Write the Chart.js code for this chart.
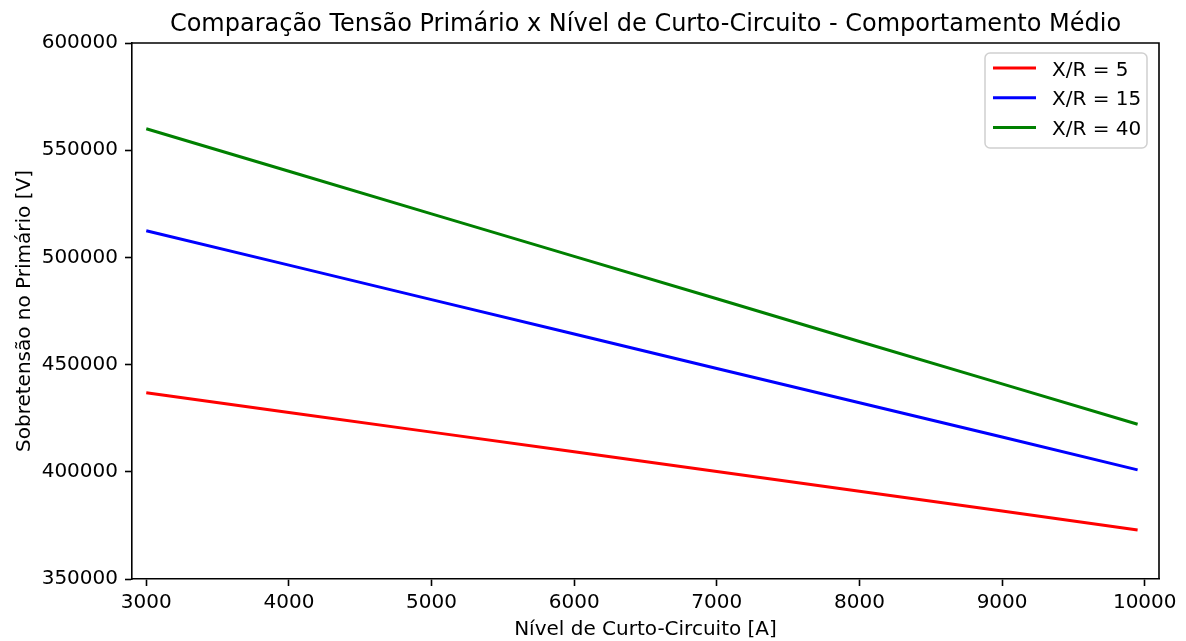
<!DOCTYPE html>
<html>
<head>
<meta charset="utf-8">
<title>Comparação Tensão Primário x Nível de Curto-Circuito</title>
<script src="https://cdn.jsdelivr.net/npm/chart.js@4.4.1/dist/chart.umd.min.js"></script>
<style>
  html, body { margin: 0; padding: 0; background: #fff; }
  #wrap { width: 1186px; height: 641px; }
</style>
</head>
<body>
<div id="wrap"><canvas id="chart" width="1186" height="641"></canvas></div>
<script>
// --- data ---
const shortCircuit = [3000, 4000, 5000, 6000, 7000, 8000, 9000, 9950];
const xr5  = [436900, 427700, 418500, 409300, 400100, 390900, 381700, 372900];
const xr15 = [512400, 496400, 480300, 464300, 448200, 432200, 416200, 400900];
const xr40 = [560000, 540200, 520300, 500500, 480700, 460800, 441000, 422200];
const seriesLabels = ['X/R = 5', 'X/R = 15', 'X/R = 40'];
const seriesColors = ['#ff0000', '#0000ff', '#008000'];
const xTicks = [3000, 4000, 5000, 6000, 7000, 8000, 9000, 10000];
const yTicks = [350000, 400000, 450000, 500000, 550000, 600000];
const chartTitle = 'Comparação Tensão Primário x Nível de Curto-Circuito - Comportamento Médio';

Chart.defaults.font.family = "'DejaVu Sans', sans-serif";
Chart.defaults.font.size = 20;
Chart.defaults.color = '#000';

const toPoints = (ys) => ys.map((y, i) => ({ x: shortCircuit[i], y: y }));

// top/right spines + title centred over the axes (matplotlib style)
const frameBox = {
    id: 'frameBox',
    afterDraw(chart) {
        const { ctx, chartArea: a } = chart;
        ctx.save();
        ctx.strokeStyle = '#000';
        ctx.lineWidth = 1.6;
        ctx.beginPath();
        ctx.moveTo(a.left, a.top);
        ctx.lineTo(a.right, a.top);
        ctx.lineTo(a.right, a.bottom);
        ctx.stroke();

        ctx.fillStyle = '#000';
        ctx.font = "24px 'DejaVu Sans'";
        ctx.textAlign = 'center';
        ctx.textBaseline = 'alphabetic';
        ctx.fillText(chartTitle, (a.left + a.right) / 2, a.top - 12);
        ctx.restore();
    }
};

// legend box in the upper right corner of the plot
const boxLegend = {
    id: 'boxLegend',
    afterDraw(chart) {
        const { ctx, chartArea: a } = chart;
        const sets = chart.data.datasets;
        const w = 162, rowH = 29.7;
        const h = 95;
        const x0 = a.right - 12 - w;
        const y0 = a.top + 10;
        ctx.save();
        ctx.fillStyle = 'rgba(255,255,255,0.8)';
        ctx.strokeStyle = '#d0d0d0';
        ctx.lineWidth = 1.5;
        ctx.beginPath();
        ctx.roundRect(x0, y0, w, h, 5);
        ctx.fill();
        ctx.stroke();
        ctx.font = "20px 'DejaVu Sans'";
        ctx.textBaseline = 'alphabetic';
        ctx.textAlign = 'left';
        sets.forEach((ds, i) => {
            const cy = y0 + 15 + i * rowH;
            ctx.strokeStyle = ds.borderColor;
            ctx.lineWidth = 3;
            ctx.beginPath();
            ctx.moveTo(x0 + 8, cy);
            ctx.lineTo(x0 + 51, cy);
            ctx.stroke();
            ctx.fillStyle = '#000';
            ctx.fillText(ds.label, x0 + 67, cy + 7.5);
        });
        ctx.restore();
    }
};

new Chart(document.getElementById('chart'), {
    type: 'line',
    data: {
        datasets: [xr5, xr15, xr40].map((ys, i) => ({
            label: seriesLabels[i],
            data: toPoints(ys),
            borderColor: seriesColors[i],
            backgroundColor: seriesColors[i],
            borderWidth: 3,
            pointRadius: 0,
            tension: 0,
            fill: false
        }))
    },
    options: {
        responsive: false,
        animation: false,
        layout: { padding: { left: 0, right: 27, top: 43, bottom: 0 } },
        plugins: {
            legend: { display: false },
            tooltip: { enabled: false },
            title: { display: false }
        },
        scales: {
            x: {
                type: 'linear',
                min: 2900,
                max: 10100,
                afterBuildTicks: (s) => { s.ticks = xTicks.map(v => ({ value: v })); },
                afterFit: (s) => { s.height = 62; },
                grid: { drawOnChartArea: false, drawTicks: true, tickLength: 7, tickWidth: 1.6, tickColor: '#000' },
                border: { display: true, color: '#000', width: 1.6 },
                ticks: { padding: 5, color: '#000', callback: (v) => String(v), maxRotation: 0 },
                title: {
                    display: true,
                    text: 'Nível de Curto-Circuito [A]',
                    color: '#000',
                    font: { size: 20, lineHeight: 1.1 },
                    padding: { top: 0, bottom: 0 }
                }
            },
            y: {
                type: 'linear',
                min: 350000,
                max: 600000,
                afterBuildTicks: (s) => { s.ticks = yTicks.map(v => ({ value: v })); },
                afterFit: (s) => { s.width = 132; },
                grid: { drawOnChartArea: false, drawTicks: true, tickLength: 7, tickWidth: 1.6, tickColor: '#000' },
                border: { display: true, color: '#000', width: 1.6 },
                ticks: { padding: 7, color: '#000', callback: (v) => String(v) },
                title: {
                    display: true,
                    text: 'Sobretensão no Primário [V]',
                    color: '#000',
                    padding: { top: 13, bottom: 0 }
                }
            }
        }
    },
    plugins: [frameBox, boxLegend]
});
</script>
</body>
</html>
